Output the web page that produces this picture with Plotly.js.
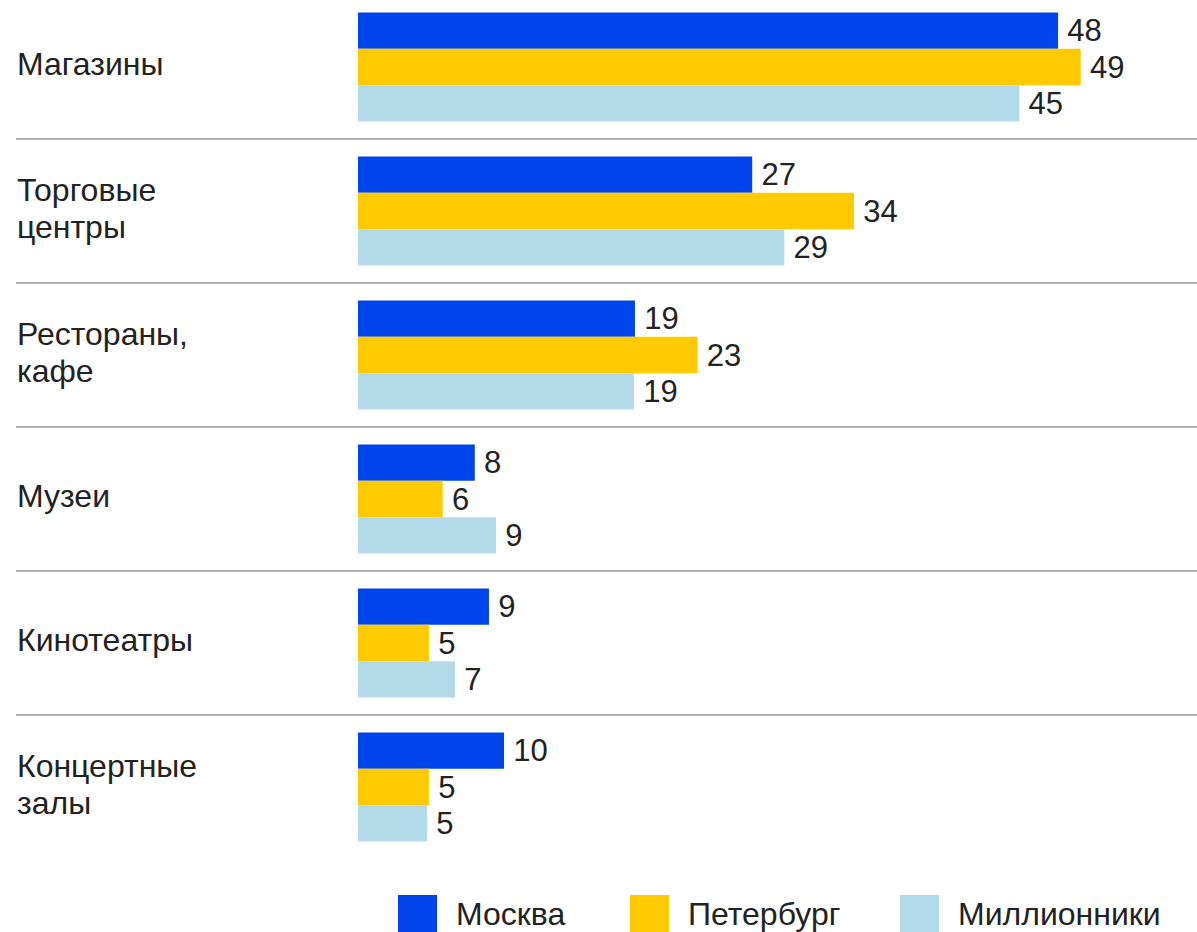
<!DOCTYPE html>
<html>
<head>
<meta charset="utf-8">
<script src="https://cdn.plot.ly/plotly-3.0.1.min.js"></script>
<style>
  html, body { margin: 0; padding: 0; background: #fff; }
  #chart { width: 1197px; height: 932px; }
</style>
</head>
<body>
<div id="chart"></div>
<script>
// ---- data ----
const categories = ["Магазины", "Торговые<br>центры", "Рестораны,<br>кафе", "Музеи", "Кинотеатры", "Концертные<br>залы"];
const seriesNames = ["Москва", "Петербург", "Миллионники"];
// bar lengths
const moscowValues = [47.95, 27.0, 18.97, 8.0, 8.97, 10.0];
const peterValues = [49.5, 33.97, 23.26, 5.8, 4.86, 4.86];
const millionValues = [45.3, 29.2, 18.9, 9.45, 6.64, 4.73];
// printed value labels
const moscowLabels = [48, 27, 19, 8, 9, 10];
const peterLabels = [49, 34, 23, 6, 5, 5];
const millionLabels = [45, 29, 19, 9, 7, 5];

// ---- styling / layout ----
const colors = ["#0044EC", "#FFCB00", "#B3DAE8"];
const W = 1197, H = 932;
const plotLeft = 358, plotBottom = 859;
const plotW = W - plotLeft;
const pxPerUnit = 14.6;
const groupPx = 144;
const fontFam = '"Liberation Sans", Arial, Helvetica, sans-serif';
const textColor = "#222222";

const valuesList = [moscowValues, peterValues, millionValues];
const labelsList = [moscowLabels, peterLabels, millionLabels];

const traces = seriesNames.map((name, i) => ({
  type: "bar",
  orientation: "h",
  name: name,
  y: categories,
  x: valuesList[i],
  text: labelsList[i].map(v => "\u2009" + v),
  textposition: "outside",
  constraintext: "none",
  cliponaxis: false,
  textfont: { family: fontFam, size: 31, color: textColor },
  marker: { color: colors[i], line: { width: 0 } },
  hoverinfo: "skip",
  showlegend: false
}));

const px2paperX = p => (p - plotLeft) / plotW;
const px2paperY = p => (plotBottom - p) / plotBottom;

const shapes = [];
const annotations = [];

// separators between groups
for (let k = 0; k < categories.length - 1; k++) {
  shapes.push({
    type: "line", xref: "paper", yref: "y",
    x0: px2paperX(16), x1: px2paperX(W + 5),
    y0: k + 0.5, y1: k + 0.5,
    line: { color: "#9a9a9a", width: 1.6 }
  });
}

// category labels (left aligned)
categories.forEach((cat, k) => {
  const lines = cat.split("<br>");
  const n = lines.length;
  lines.forEach((ln, i) => {
    annotations.push({
      xref: "paper", yref: "y",
      x: px2paperX(15), y: k,
      xanchor: "left", yanchor: "middle",
      yshift: ((n - 1) / 2 - i) * 37 + 3,
      text: ln, showarrow: false, align: "left",
      font: { family: fontFam, size: 32, color: textColor }
    });
  });
});

// custom legend
const legendX = [398, 630, 900];
const sq = 40, sqTop = 895;
seriesNames.forEach((name, i) => {
  shapes.push({
    type: "rect", xref: "paper", yref: "paper",
    x0: px2paperX(legendX[i]), x1: px2paperX(legendX[i] + sq - 1),
    y0: px2paperY(sqTop + sq), y1: px2paperY(sqTop),
    fillcolor: colors[i], line: { width: 0 }
  });
  annotations.push({
    xref: "paper", yref: "paper",
    x: px2paperX(legendX[i] + sq + 16), y: px2paperY(914),
    xanchor: "left", yanchor: "middle",
    text: name, showarrow: false,
    font: { family: fontFam, size: 32, color: textColor }
  });
});

const nCat = categories.length;
const topVal = -0.5 + (nCat * groupPx - plotBottom) / groupPx; // category value at top edge

const layout = {
  width: W, height: H,
  margin: { l: plotLeft, r: 0, t: 0, b: H - plotBottom, pad: 0 },
  paper_bgcolor: "#ffffff",
  plot_bgcolor: "#ffffff",
  barmode: "group",
  bargap: 0.243,
  bargroupgap: 0,
  showlegend: false,
  xaxis: {
    range: [0, plotW / pxPerUnit],
    showgrid: false, zeroline: false, showline: false,
    showticklabels: false, ticks: "", fixedrange: true
  },
  yaxis: {
    type: "category",
    range: [nCat - 0.5, topVal],
    showgrid: false, zeroline: false, showline: false,
    showticklabels: false, ticks: "", fixedrange: true
  },
  shapes: shapes,
  annotations: annotations,
  font: { family: fontFam, color: textColor }
};

Plotly.newPlot("chart", traces, layout, { displayModeBar: false, staticPlot: true });
</script>
</body>
</html>
